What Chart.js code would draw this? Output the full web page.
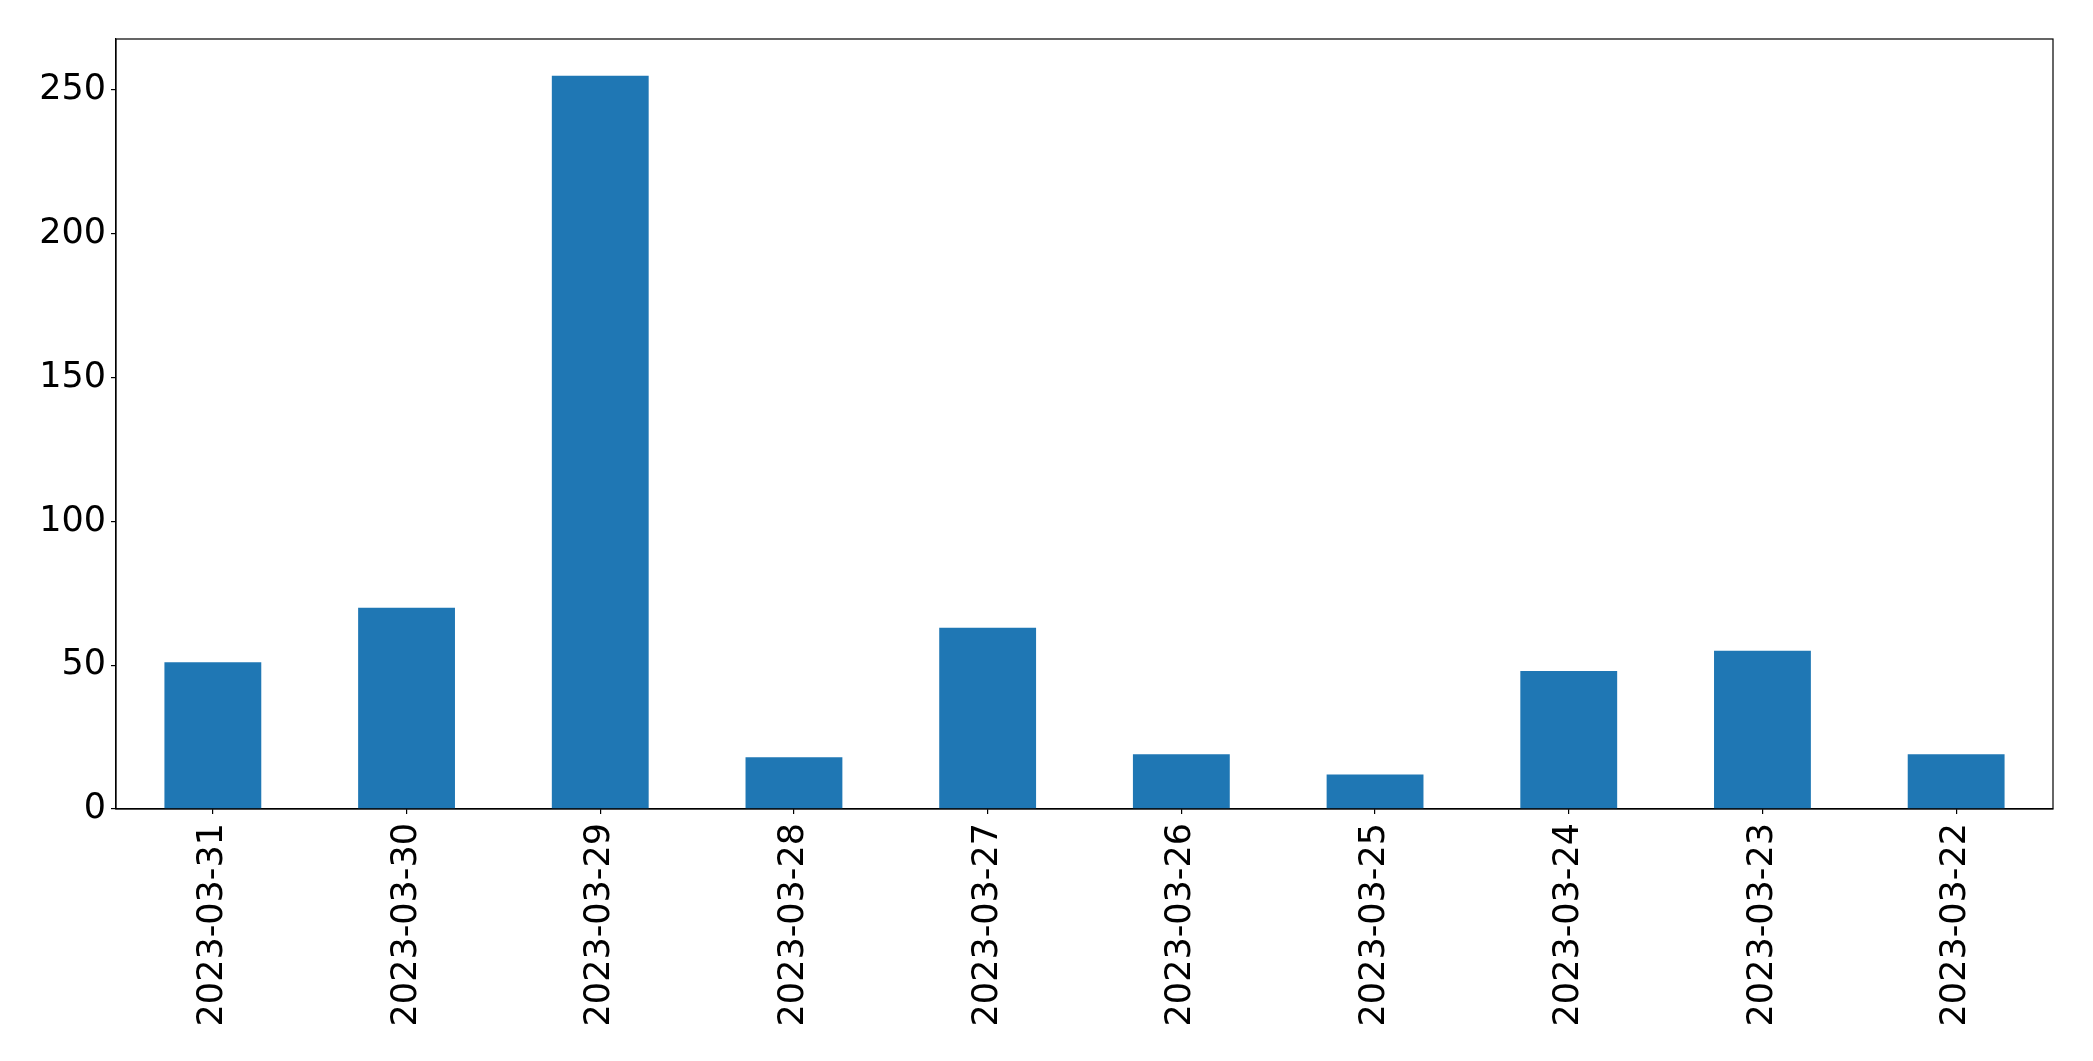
<!DOCTYPE html>
<html>
<head>
<meta charset="utf-8">
<script src="https://cdn.jsdelivr.net/npm/chart.js@4/dist/chart.umd.min.js"></script>
<style>
  html, body { margin: 0; padding: 0; background: #ffffff; }
  #wrap { width: 2093px; height: 1061px; position: relative; }
</style>
</head>
<body>
<div id="wrap"><canvas id="c" width="2093" height="1061"></canvas></div>
<script>
const categories = ["2023-03-31", "2023-03-30", "2023-03-29", "2023-03-28", "2023-03-27",
                    "2023-03-26", "2023-03-25", "2023-03-24", "2023-03-23", "2023-03-22"];
const counts = [51, 70, 255, 18, 63, 19, 12, 48, 55, 19];
const yTickStep = 50;
const yAxisMax = 267.75;

const frame = {
  id: 'frame',
  afterDraw(chart) {
    const { ctx, chartArea: a } = chart;
    ctx.save();
    ctx.strokeStyle = '#000000';
    ctx.lineWidth = 1.2;
    ctx.strokeRect(a.left, a.top, a.right - a.left, a.bottom - a.top);
    ctx.restore();
  }
};

new Chart(document.getElementById('c'), {
  type: 'bar',
  data: {
    labels: categories,
    datasets: [{
      data: counts,
      backgroundColor: '#1f77b4',
      borderWidth: 0,
      categoryPercentage: 1.0,
      barPercentage: 0.5
    }]
  },
  options: {
    responsive: false,
    animation: false,
    devicePixelRatio: 1,
    layout: { padding: { top: 39, right: 40, left: 0, bottom: 0 } },
    plugins: { legend: { display: false }, tooltip: { enabled: false } },
    scales: {
      x: {
        offset: true,
        grid: { display: true, offset: false, drawOnChartArea: false, drawTicks: true, tickLength: 5, color: '#000000', lineWidth: 1.2 },
        border: { display: true, color: '#000000', width: 1.2 },
        ticks: {
          color: '#000000',
          font: { family: 'DejaVu Sans', size: 35 },
          minRotation: 90, maxRotation: 90,
          padding: 9,
          autoSkip: false
        },
        afterFit(scale) { scale.height = 252; }
      },
      y: {
        min: 0,
        max: yAxisMax,
        grid: { display: true, drawOnChartArea: false, drawTicks: true, tickLength: 5, color: '#000000', lineWidth: 1.2 },
        border: { display: true, color: '#000000', width: 1.2 },
        ticks: {
          stepSize: yTickStep,
          includeBounds: false,
          color: '#000000',
          font: { family: 'DejaVu Sans', size: 35 },
          padding: 5
        },
        afterFit(scale) { scale.width = 116; }
      }
    }
  },
  plugins: [frame]
});
</script>
</body>
</html>
